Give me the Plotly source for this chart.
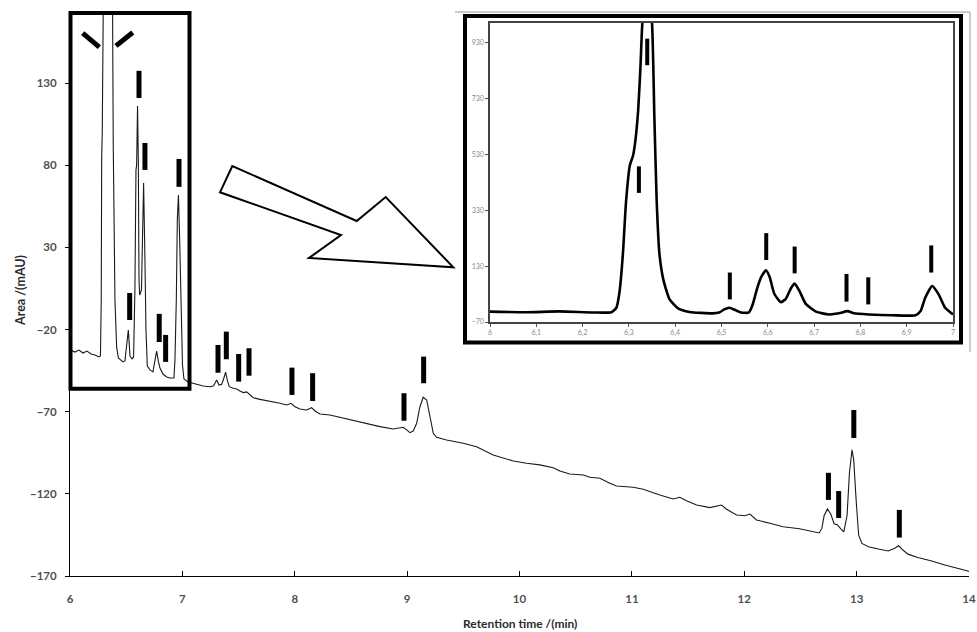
import plotly.graph_objects as go

# ---------------- data ----------------
main_x_ticks = [6, 7, 8, 9, 10, 11, 12, 13, 14]
main_y_ticks = [-170, -120, -70, -20, 30, 80, 130]

main_time = [6.004, 6.044, 6.080, 6.116, 6.151, 6.187, 6.222, 6.258, 6.271, 6.278,
             6.282, 6.287, 6.297, 6.335, 6.378, 6.385, 6.400, 6.415, 6.430, 6.472,
             6.489, 6.504, 6.519, 6.534, 6.552, 6.566, 6.578, 6.587, 6.593, 6.601,
             6.608, 6.614, 6.620, 6.636, 6.647, 6.655, 6.667, 6.676, 6.688, 6.712,
             6.738, 6.756, 6.771, 6.787, 6.801, 6.827, 6.860, 6.890, 6.925, 6.934,
             6.946, 6.955, 6.965, 6.976, 6.988, 7.001, 7.014, 7.050, 7.068, 7.127,
             7.186, 7.246, 7.275, 7.290, 7.305, 7.326, 7.350, 7.364, 7.385, 7.399,
             7.417, 7.453, 7.488, 7.512, 7.542, 7.572, 7.601, 7.631, 7.690, 7.779,
             7.868, 7.928, 7.966, 8.002, 8.046, 8.106, 8.150, 8.180, 8.224, 8.313,
             8.402, 8.520, 8.640, 8.758, 8.876, 8.936, 8.965, 8.996, 9.025, 9.054,
             9.085, 9.114, 9.143, 9.174, 9.203, 9.233, 9.262, 9.351, 9.499, 9.618,
             9.766, 9.944, 10.063, 10.181, 10.300, 10.359, 10.448, 10.567, 10.626, 10.715,
             10.804, 10.864, 11.012, 11.101, 11.249, 11.367, 11.427, 11.486, 11.576, 11.694,
             11.798, 11.843, 11.932, 12.005, 12.050, 12.109, 12.228, 12.346, 12.492, 12.667,
             12.690, 12.711, 12.740, 12.770, 12.799, 12.828, 12.857, 12.886, 12.915, 12.936,
             12.959, 12.974, 12.995, 13.018, 13.047, 13.105, 13.193, 13.280, 13.339, 13.374,
             13.412, 13.456, 13.544, 13.660, 13.777, 13.894, 13.981, 14.000]
main_signal = [-32.5, -33.7, -32.5, -34.3, -33.1, -34.9, -35.5, -36.7, -36.1, -2.0,
               85.0, 100.0, 185.0, 320.0, 185.0, 91.1, -2.0, -30.6, -37.3, -39.7,
               -39.1, -28.2, -20.3, -36.1, -37.9, -36.7, 5.9, 77.1, 80.1, 116.0,
               83.2, 10.1, 1.0, 4.1, 58.8, 69.2, 22.3, -20.3, -42.2, -44.6,
               -45.8, -38.5, -33.1, -39.7, -43.4, -47.1, -48.9, -49.5, -49.5, -38.5,
               -2.0, 46.7, 61.9, 34.5, -14.2, -41.6, -50.1, -51.9, -52.2, -53.2,
               -54.4, -54.8, -54.4, -52.7, -50.7, -53.8, -53.3, -50.7, -46.0, -50.7,
               -54.8, -55.8, -56.4, -57.4, -58.4, -58.0, -59.8, -61.5, -62.5, -63.5,
               -64.9, -65.9, -64.9, -67.0, -68.4, -69.0, -67.6, -69.6, -71.4, -72.0,
               -73.4, -75.5, -77.1, -79.1, -80.5, -80.1, -79.5, -81.1, -82.8, -81.8,
               -77.1, -67.0, -61.2, -62.9, -73.1, -83.2, -85.6, -87.2, -89.2, -91.3,
               -96.4, -100.0, -101.4, -102.4, -104.1, -106.1, -107.9, -108.5, -109.9, -110.5,
               -113.6, -115.2, -116.0, -117.2, -120.7, -123.1, -122.1, -124.2, -126.8, -128.4,
               -126.8, -129.4, -132.9, -133.3, -132.3, -135.9, -137.9, -140.0, -141.2, -143.8,
               -141.2, -133.2, -129.2, -132.2, -138.2, -138.8, -141.2, -143.2, -133.2, -107.2,
               -93.2, -99.2, -123.2, -145.2, -150.2, -152.2, -153.6, -154.8, -153.1, -151.6,
               -154.2, -156.7, -158.7, -160.7, -163.2, -165.1, -166.8, -167.3]

main_bar_time = [6.614, 6.667, 6.970, 6.531, 6.794, 6.851, 7.317, 7.391, 7.501,
                 7.593, 7.975, 8.159, 8.972, 9.147, 12.749, 12.840, 12.975, 13.380]
main_bar_low = [120.9, 77.1, 66.8, -14.2, -27.6, -39.7, -46.3, -38.1, -51.7,
                -48.1, -59.8, -63.5, -75.5, -52.7, -123.7, -134.7, -86.0, -146.6]
main_bar_high = [137.4, 93.5, 83.8, 2.2, -10.5, -23.3, -29.4, -21.3, -34.9,
                 -31.4, -43.2, -46.6, -58.8, -36.5, -107.2, -118.3, -69.0, -129.8]

slash_x_start = [6.113, 6.409]
slash_y_start = [160.3, 152.6]
slash_x_end = [6.261, 6.558]
slash_y_end = [151.8, 160.7]

inset_x_ticks = [6.0, 6.1, 6.2, 6.3, 6.4, 6.5, 6.6, 6.7, 6.8, 6.9, 7.0]
inset_x_labels = ["6", "6,1", "6,2", "6,3", "6,4", "6,5", "6,6", "6,7", "6,8", "6,9", "7"]
inset_y_ticks = [-70, 130, 330, 530, 730, 930]

inset_time = [6.000, 6.079, 6.151, 6.223, 6.262, 6.273, 6.280, 6.287, 6.294, 6.302,
              6.309, 6.314, 6.320, 6.325, 6.329, 6.340, 6.350, 6.355, 6.360, 6.366,
              6.375, 6.388, 6.406, 6.431, 6.481, 6.495, 6.506, 6.517, 6.527, 6.542,
              6.559, 6.567, 6.578, 6.587, 6.596, 6.604, 6.614, 6.628, 6.639, 6.650,
              6.658, 6.668, 6.682, 6.704, 6.732, 6.754, 6.772, 6.786, 6.818, 6.869,
              6.919, 6.930, 6.940, 6.955, 6.969, 6.983, 7.000]
inset_signal = [-33, -35, -32, -36, -35, -19, 41, 173, 364, 490,
                526, 579, 687, 843, 998, 1150, 998, 663, 364, 173,
                77, 11, -21, -34, -39, -36, -25, -19, -25, -36,
                -36, -9, 56, 95, 115, 91, 31, 1, 13, 51,
                68, 42, -5, -33, -43, -39, -31, -39, -43, -46,
                -46, -31, 17, 59, 29, -19, -43]

inset_bar_time = [6.3396, 6.3216, 6.518, 6.5966, 6.658, 6.770, 6.817, 6.953]
inset_bar_low = [849, 392, 11, 152, 104, 3, -7, 107]
inset_bar_high = [944, 487, 107, 248, 200, 102, 90, 204]

assert len(main_time) == len(main_signal)
assert len(inset_time) == len(inset_signal)

# ---------------- figure ----------------
W, H = 977, 632


def px(x):
    return x / W


def py(y):
    return 1 - y / H


def segments(xs, lo, hi):
    sx, sy = [], []
    for x, a, b in zip(xs, lo, hi):
        sx += [x, x, None]
        sy += [a, b, None]
    return sx, sy


fig = go.Figure()

fig.add_trace(go.Scatter(x=main_time, y=main_signal, mode="lines",
                         line=dict(color="#1a1a1a", width=1.1),
                         xaxis="x", yaxis="y", hoverinfo="skip"))

bx, by = segments(main_bar_time, main_bar_low, main_bar_high)
fig.add_trace(go.Scatter(x=bx, y=by, mode="lines",
                         line=dict(color="black", width=5),
                         xaxis="x", yaxis="y", hoverinfo="skip"))

sx, sy = [], []
for a, b, c, d in zip(slash_x_start, slash_y_start, slash_x_end, slash_y_end):
    sx += [a, c, None]
    sy += [b, d, None]
fig.add_trace(go.Scatter(x=sx, y=sy, mode="lines",
                         line=dict(color="black", width=5),
                         xaxis="x", yaxis="y", hoverinfo="skip"))

fig.add_trace(go.Scatter(x=inset_time, y=inset_signal, mode="lines",
                         line=dict(color="black", width=2.6, shape="spline", smoothing=0.5),
                         xaxis="x2", yaxis="y2", hoverinfo="skip"))

ix, iy = segments(inset_bar_time, inset_bar_low, inset_bar_high)
fig.add_trace(go.Scatter(x=ix, y=iy, mode="lines",
                         line=dict(color="black", width=4),
                         xaxis="x2", yaxis="y2", hoverinfo="skip"))

tick_font = dict(family="Lato, Calibri, sans-serif", size=11.5, color="#4f4f4f", weight="bold")
small_font = dict(family="Lato, Calibri, sans-serif", size=7, color="#8a8a8a")

shapes = [
    # left box
    dict(type="rect", xref="paper", yref="paper",
         x0=px(70.5), x1=px(189.5), y0=py(388.7), y1=py(13),
         line=dict(color="black", width=4)),
    # arrow
    dict(type="path", xref="paper", yref="paper",
         path="M {} {} L {} {} L {} {} L {} {} L {} {} L {} {} L {} {} Z".format(
             px(220), py(192.3), px(232.3), py(166), px(356.7), py(221),
             px(385.7), py(197), px(453.3), py(267.3), px(309), py(258),
             px(341), py(235)),
         fillcolor="white", line=dict(color="black", width=2)),
    # gray outer frame lines of the inset picture
    dict(type="line", xref="paper", yref="paper",
         x0=px(455), x1=px(970), y0=py(12), y1=py(12),
         line=dict(color="#9a9a9a", width=1)),
    dict(type="line", xref="paper", yref="paper",
         x0=px(970), x1=px(970), y0=py(12), y1=py(352),
         line=dict(color="#9a9a9a", width=1)),
    # inset thick border
    dict(type="rect", xref="paper", yref="paper",
         x0=px(465), x1=px(961), y0=py(342.5), y1=py(16),
         line=dict(color="black", width=4)),
]

annotations = [
    dict(text="Retention time /(min)", xref="paper", yref="paper",
         x=px(520), y=py(623), showarrow=False, xanchor="center", yanchor="middle",
         font=dict(family="Lato, Calibri, sans-serif", size=12, color="#2b2b2b", weight="bold")),
    dict(text="Area /(mAU)", xref="paper", yref="paper",
         x=px(20), y=py(291), showarrow=False, textangle=-90,
         xanchor="center", yanchor="middle",
         font=dict(family="Lato, Calibri, sans-serif", size=12.5, color="#2b2b2b", weight="bold")),
]

fig.update_layout(
    template="none",
    width=W, height=H,
    margin=dict(l=0, r=0, t=0, b=0),
    paper_bgcolor="white", plot_bgcolor="white",
    showlegend=False,
    xaxis=dict(domain=[px(70), px(969)], range=[6, 14], anchor="y",
               tickmode="array", tickvals=main_x_ticks,
               ticks="inside", ticklen=5, tickcolor="black", tickwidth=1,
               showline=True, linecolor="black", linewidth=1,
               showgrid=False, zeroline=False, automargin=False,
               tickfont=tick_font, ticklabelstandoff=12),
    yaxis=dict(domain=[py(576), py(13)], range=[-170, 172.6], anchor="x",
               tickmode="array", tickvals=main_y_ticks,
               ticks="outside", ticklen=4, tickcolor="black", tickwidth=1,
               showline=True, linecolor="black", linewidth=1,
               showgrid=False, zeroline=False, automargin=False,
               tickfont=tick_font, ticklabelstandoff=6),
    xaxis2=dict(domain=[px(490), px(953)], range=[6, 7], anchor="y2",
                tickmode="array", tickvals=inset_x_ticks, ticktext=inset_x_labels,
                ticks="outside", ticklen=3, tickcolor="#555", tickwidth=1,
                showline=True, mirror=True, linecolor="#444", linewidth=1.5,
                showgrid=False, zeroline=False, automargin=False,
                tickfont=small_font),
    yaxis2=dict(domain=[py(322), py(23)], range=[-70, 1000], anchor="x2",
                tickmode="array", tickvals=inset_y_ticks,
                ticks="outside", ticklen=3, tickcolor="#555", tickwidth=1,
                showline=True, mirror=True, linecolor="#444", linewidth=1.5,
                showgrid=False, zeroline=False, automargin=False,
                tickfont=small_font),
    shapes=shapes,
    annotations=annotations,
)

fig.write_html("out.html", config={"displayModeBar": False},
               post_script="document.body.style.margin='0px';document.body.style.padding='0px';")
